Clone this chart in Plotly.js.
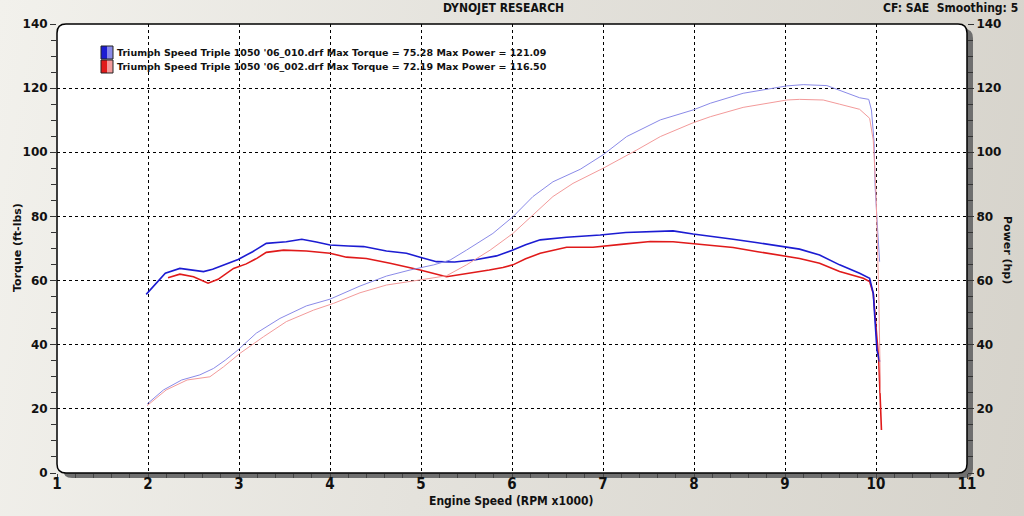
<!DOCTYPE html>
<html>
<head>
<meta charset="utf-8">
<script src="https://cdn.plot.ly/plotly-3.0.1.min.js"></script>
<style>
html,body{margin:0;padding:0;}
body{width:1024px;height:516px;overflow:hidden;background:linear-gradient(100deg,#f2f1ec 0%,#e4e2dc 45%,#d6d3cb 100%);}
#chart{width:1024px;height:516px;}
</style>
</head>
<body>
<div id="chart"></div>
<script>
// ---- Data (RPM x1000, torque ft-lbs, power hp) ----
const run1Name = "Triumph Speed Triple 1050 '06_010.drf";
const run2Name = "Triumph Speed Triple 1050 '06_002.drf";
const run1MaxTorque = "75.28", run1MaxPower = "121.09";
const run2MaxTorque = "72.19", run2MaxPower = "116.50";

const blueTorqueRpm = [1.98,2.08,2.19,2.35,2.50,2.61,2.71,2.85,2.99,3.15,3.30,3.52,3.69,3.85,4.00,4.20,4.37,4.62,4.84,5.00,5.17,5.37,5.60,5.83,6.01,6.15,6.31,6.60,6.97,7.25,7.55,7.77,7.99,8.20,8.43,8.70,8.98,9.16,9.38,9.60,9.82,9.93,9.97,9.99,10.01,10.04];
const blueTorque    = [55.7,59.0,62.3,63.8,63.2,62.8,63.5,65.0,66.6,69.0,71.6,72.1,72.9,72.0,71.1,70.8,70.6,69.2,68.5,67.2,65.9,65.8,66.5,67.7,69.5,71.2,72.7,73.5,74.2,75.0,75.28,75.5,74.5,73.8,72.9,71.8,70.6,69.8,68.0,64.9,62.3,60.7,56.0,46.7,38.4,34.7];

const redTorqueRpm = [2.22,2.35,2.50,2.66,2.77,2.94,3.08,3.20,3.30,3.49,3.74,4.00,4.18,4.40,4.66,4.99,5.28,5.50,5.75,5.90,6.01,6.15,6.31,6.60,6.89,7.20,7.52,7.77,8.07,8.43,8.70,8.98,9.16,9.38,9.60,9.86,9.93,9.97,10.00,10.03,10.06];
const redTorque    = [60.9,62.0,61.2,59.2,60.4,63.8,65.2,67.0,68.8,69.5,69.2,68.5,67.3,66.9,65.4,63.3,61.2,62.1,63.3,64.1,64.9,66.8,68.5,70.4,70.4,71.3,72.19,72.1,71.3,70.3,69.0,67.7,66.9,65.4,62.8,60.7,59.7,56.0,45.6,35.2,13.4];

const bluePowerRpm = [1.99,2.17,2.37,2.57,2.72,2.85,2.99,3.19,3.45,3.74,4.00,4.33,4.62,4.88,5.14,5.32,5.50,5.79,6.01,6.23,6.45,6.75,7.00,7.26,7.63,7.99,8.18,8.54,9.02,9.20,9.46,9.60,9.82,9.92,9.95,9.98,9.99,10.02,10.04];
const bluePower    = [21.5,25.9,29.0,30.6,32.6,35.2,38.4,43.6,48.2,52.1,54.2,58.3,61.4,63.3,64.9,66.4,69.5,74.7,79.9,86.2,90.8,94.7,99.2,104.9,110.1,113.2,115.3,118.4,120.7,121.09,120.8,119.3,117.0,116.5,113.2,102.8,89.3,75.0,65.9];

const redPowerRpm = [1.99,2.20,2.43,2.68,2.83,3.01,3.27,3.52,3.82,4.04,4.33,4.62,4.99,5.28,5.50,5.76,6.01,6.23,6.45,6.67,7.00,7.37,7.63,7.99,8.18,8.54,8.80,9.02,9.16,9.42,9.60,9.82,9.93,9.97,10.00,10.03,10.05];
const redPower    = [21.0,25.9,29.0,30.0,33.1,37.3,42.5,47.2,50.8,52.9,56.2,58.6,60.2,61.5,64.9,69.5,74.7,80.4,86.2,90.3,95.0,100.7,104.9,109.2,111.1,114.0,115.3,116.3,116.5,116.3,115.0,113.4,110.6,103.8,87.2,56.0,24.9];

const xTicks = [1,2,3,4,5,6,7,8,9,10,11];
const yTicks = [0,20,40,60,80,100,120,140];

const C = {
  blueDark:"#1c1cd2", blueLight:"#8a8ae8",
  redDark:"#e01a1a", redLight:"#f39a9a"
};

const traces = [
  {x:bluePowerRpm, y:bluePower, yaxis:"y2", mode:"lines", line:{color:C.blueLight,width:1}, hoverinfo:"skip", showlegend:false},
  {x:redPowerRpm,  y:redPower,  yaxis:"y2", mode:"lines", line:{color:C.redLight,width:1}, hoverinfo:"skip", showlegend:false},
  {x:redTorqueRpm, y:redTorque, mode:"lines", line:{color:C.redDark,width:1.6}, hoverinfo:"skip", showlegend:false},
  {x:blueTorqueRpm,y:blueTorque,mode:"lines", line:{color:C.blueDark,width:1.6}, hoverinfo:"skip", showlegend:false}
];

// plot geometry (pixels) for the rounded frame helpers
const W=1024,H=516,L=57,R=57,T=24,B=43;
const pw=W-L-R, ph=H-T-B;
function rr(dx,dy,r){ // rounded rect path in paper coords, offset dx,dy pixels
  const px=v=>((v)/pw).toFixed(5), py=v=>(1-(v)/ph).toFixed(5);
  const x0=dx,x1=pw+dx,y0=dy,y1=ph+dy;
  return `M${px(x0+r)},${py(y0)} L${px(x1-r)},${py(y0)} Q${px(x1)},${py(y0)} ${px(x1)},${py(y0+r)} L${px(x1)},${py(y1-r)} Q${px(x1)},${py(y1)} ${px(x1-r)},${py(y1)} L${px(x0+r)},${py(y1)} Q${px(x0)},${py(y1)} ${px(x0)},${py(y1-r)} L${px(x0)},${py(y0+r)} Q${px(x0)},${py(y0)} ${px(x0+r)},${py(y0)} Z`;
}
const PX = v => (v-L)/pw;       // pixel x -> paper x
const PY = v => 1-(v-T)/ph;     // pixel y -> paper y

const tickFontY = {family:"DejaVu Sans, Verdana, sans-serif", size:12, color:"#111", weight:"bold"};
const narrow = "Liberation Sans Narrow, DejaVu Sans Condensed, Arial Narrow, sans-serif";

const axisCommon = {
  range:[0,140], tickvals:yTicks, ticktext:yTicks.map(String),
  showline:false, zeroline:false, fixedrange:true,
  ticks:"outside", ticklen:6, tickcolor:"#333", tickwidth:1,
  minor:{dtick:5, ticks:"outside", ticklen:5, tickcolor:"#333", showgrid:false},
  tickfont:tickFontY
};

const legendFont = {family:"DejaVu Sans, Verdana, sans-serif", size:9.5, color:"#111", weight:"bold"};

const layout = {
  width:W, height:H,
  margin:{l:L,r:R,t:T,b:B,pad:0},
  paper_bgcolor:"rgba(0,0,0,0)",
  plot_bgcolor:"rgba(0,0,0,0)",
  showlegend:false,
  xaxis:{
    range:[1,11], tickvals:xTicks, ticktext:xTicks.map(String),
    showgrid:true, gridcolor:"#000", griddash:"dot", gridwidth:1,
    zeroline:false, showline:false, fixedrange:true,
    ticks:"outside", ticklen:5, tickcolor:"#444",
    minor:{dtick:0.2, ticks:"outside", ticklen:4, tickcolor:"#444", showgrid:false},
    ticklabelstandoff:-8,
    tickfont:{family:narrow, size:15, color:"#111", weight:"bold"}
  },
  yaxis:Object.assign({}, axisCommon, {
    showgrid:true, gridcolor:"#000", griddash:"dot", gridwidth:1
  }),
  yaxis2:Object.assign({}, axisCommon, {
    overlaying:"y", side:"right", showgrid:false
  }),
  shapes:[
    {type:"path", xref:"paper", yref:"paper", path:rr(6,5,9), fillcolor:"#6f6f6f", line:{width:0}, layer:"below"},
    {type:"path", xref:"paper", yref:"paper", path:rr(0,0,9), fillcolor:"#ffffff", line:{color:"#000",width:1.5}, layer:"below"},
    // legend swatches
    {type:"rect", xref:"paper", yref:"paper", x0:PX(101), x1:PX(107), y0:PY(59), y1:PY(46), fillcolor:C.blueDark, line:{width:0}},
    {type:"rect", xref:"paper", yref:"paper", x0:PX(107), x1:PX(113), y0:PY(59), y1:PY(46), fillcolor:C.blueLight, line:{width:0}},
    {type:"rect", xref:"paper", yref:"paper", x0:PX(101), x1:PX(107), y0:PY(73), y1:PY(60), fillcolor:C.redDark, line:{width:0}},
    {type:"rect", xref:"paper", yref:"paper", x0:PX(107), x1:PX(113), y0:PY(73), y1:PY(60), fillcolor:C.redLight, line:{width:0}},
    {type:"rect", xref:"paper", yref:"paper", x0:PX(101), x1:PX(113), y0:PY(59), y1:PY(46), line:{color:"#222",width:1}},
    {type:"rect", xref:"paper", yref:"paper", x0:PX(101), x1:PX(113), y0:PY(73), y1:PY(60), line:{color:"#222",width:1}}
  ],
  annotations:[
    {text:"DYNOJET RESEARCH", xref:"paper", yref:"paper", x:PX(503), y:PY(8), xanchor:"center", yanchor:"middle", showarrow:false,
     font:{family:narrow, size:12, color:"#111", weight:"bold"}},
    {text:"CF: SAE  Smoothing: 5", xref:"paper", yref:"paper", x:PX(1020), y:PY(8), xanchor:"right", yanchor:"middle", showarrow:false,
     font:{family:narrow, size:12, color:"#111", weight:"bold"}},
    {text:"Engine Speed (RPM x1000)", xref:"paper", yref:"paper", x:PX(511), y:PY(501), xanchor:"center", yanchor:"middle", showarrow:false,
     font:{family:narrow, size:12, color:"#111", weight:"bold"}},
    {text:"Torque (ft-lbs)", xref:"paper", yref:"paper", x:PX(17), y:PY(248), xanchor:"center", yanchor:"middle", textangle:-90, showarrow:false,
     font:{family:"DejaVu Sans, Verdana, sans-serif", size:11, color:"#111", weight:"bold"}},
    {text:"Power (hp)", xref:"paper", yref:"paper", x:PX(1008), y:PY(250), xanchor:"center", yanchor:"middle", textangle:90, showarrow:false,
     font:{family:"DejaVu Sans, Verdana, sans-serif", size:11, color:"#111", weight:"bold"}},
    {text:run1Name+" Max Torque = "+run1MaxTorque+" Max Power = "+run1MaxPower, xref:"paper", yref:"paper",
     x:PX(115), y:PY(53), xanchor:"left", yanchor:"middle", showarrow:false, font:legendFont},
    {text:run2Name+" Max Torque = "+run2MaxTorque+" Max Power = "+run2MaxPower, xref:"paper", yref:"paper",
     x:PX(115), y:PY(67), xanchor:"left", yanchor:"middle", showarrow:false, font:legendFont}
  ]
};

Plotly.newPlot("chart", traces, layout, {displayModeBar:false, staticPlot:true});
</script>
</body>
</html>
